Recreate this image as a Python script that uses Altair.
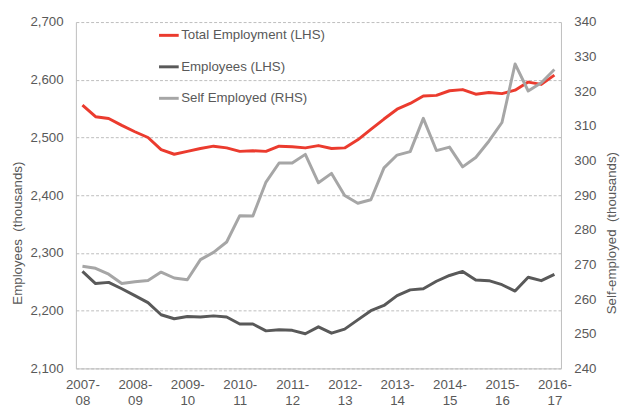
import altair as alt
import pandas as pd

year_labels = ["2007-08", "2008-09", "2009-10", "2010-11", "2011-12",
               "2012-13", "2013-14", "2014-15", "2015-16", "2016-17"]

series_names = ["Total Employment (LHS)", "Employees (LHS)", "Self Employed (RHS)"]
series_colors = ["#EB3B2E", "#595959", "#A6A6A6"]

total_employment = [2556, 2536, 2533, 2521, 2510, 2500, 2479, 2471, 2476, 2481,
                    2485, 2482, 2476, 2477, 2476, 2485, 2484, 2482, 2486, 2481,
                    2482, 2496, 2514, 2532, 2549, 2559, 2572, 2573, 2581, 2583,
                    2575, 2578, 2576, 2582, 2596, 2592, 2608]

employees = [2268, 2247, 2249, 2238, 2226, 2214, 2193, 2186, 2190, 2189,
             2191, 2189, 2177, 2177, 2165, 2167, 2166, 2160, 2172, 2161,
             2168, 2184, 2200, 2209, 2226, 2236, 2238, 2251, 2261, 2268,
             2253, 2252, 2245, 2234, 2258, 2252, 2263]

self_employed = [269.5, 268.9, 267.2, 264.5, 265.0, 265.4, 267.8, 266.1, 265.6, 271.4,
                 273.5, 276.5, 284.1, 284.0, 293.8, 299.3, 299.3, 301.8, 293.6, 296.3,
                 289.9, 287.7, 288.7, 297.9, 301.6, 302.6, 312.2, 302.9, 303.9, 298.2,
                 300.9, 305.6, 311.0, 327.9, 320.1, 322.5, 326.3]

left_ticks = [2100, 2200, 2300, 2400, 2500, 2600, 2700]
right_ticks = [240, 250, 260, 270, 280, 290, 300, 310, 320, 330, 340]

n = len(total_employment)
idx = list(range(n))

df_left = pd.DataFrame({
    "idx": idx + idx,
    "series": [series_names[0]] * n + [series_names[1]] * n,
    "value": total_employment + employees,
})
df_right = pd.DataFrame({
    "idx": idx,
    "series": [series_names[2]] * n,
    "value": self_employed,
})

label_arr = "[" + ",".join("['%s','%s']" % (y[:5], y[5:]) for y in year_labels) + "]"
label_expr = label_arr + "[round(datum.value/4)]"

line_col = "#BDBDBD"
line_w = 1

x_scale = alt.Scale(domain=[-0.5, n - 0.5], nice=False, zero=False)
color_scale = alt.Scale(domain=series_names, range=series_colors)

x_axis = alt.Axis(values=list(range(0, n, 4)), labelExpr=label_expr,
                  grid=False, ticks=False, domain=True, domainColor=line_col,
                  domainWidth=line_w, labelPadding=9, labelLineHeight=17,
                  labelOverlap=False, labelFlush=False)

legend = alt.Legend(
    title=None, orient="none", legendX=83, legendY=2, direction="vertical",
    symbolType="stroke", symbolSize=400, symbolStrokeWidth=3,
    labelFont="Liberation Sans", labelFontSize=13.5, labelColor="#595959",
    labelOffset=1, rowPadding=14, padding=0,
)

left = alt.Chart(df_left).mark_line(strokeWidth=3, strokeJoin="round").encode(
    x=alt.X("idx:Q", scale=x_scale, title=None, axis=x_axis),
    y=alt.Y("value:Q", scale=alt.Scale(domain=[2100, 2700], nice=False, zero=False),
            axis=alt.Axis(values=left_ticks, labelExpr="format(datum.value, ',')",
                          grid=True, gridColor=line_col, gridWidth=line_w,
                          gridDash=[3, 2], ticks=False, domain=True,
                          domainColor=line_col, domainWidth=line_w, labelPadding=13,
                          title="Employees\u00a0 (thousands)", titlePadding=5,
                          titleY=214, zindex=0)),
    color=alt.Color("series:N", scale=color_scale, legend=legend),
)

right = alt.Chart(df_right).mark_line(strokeWidth=3, strokeJoin="round").encode(
    x=alt.X("idx:Q", scale=x_scale, title=None, axis=x_axis),
    y=alt.Y("value:Q", scale=alt.Scale(domain=[240, 340], nice=False, zero=False),
            axis=alt.Axis(orient="right", values=right_ticks,
                          labelExpr="format(datum.value, 'd')",
                          grid=False, ticks=False, domain=True,
                          domainColor=line_col, domainWidth=line_w, labelPadding=13,
                          title="Self-employed\u00a0 (thousands)", titleAngle=270,
                          titleBaseline="top", titlePadding=9, titleY=214)),
    color=alt.Color("series:N", scale=color_scale, legend=legend),
)

chart = alt.layer(left, right).resolve_scale(y="independent").properties(
    width=493, height=352,
    autosize=alt.AutoSizeParams(type="none"),
    padding={"left": 69, "top": 11, "right": 60, "bottom": 40},
).configure_view(strokeWidth=0).configure_axis(
    labelFont="Liberation Sans", labelFontSize=13.5, labelColor="#595959",
    titleFont="Liberation Sans", titleFontSize=13.5, titleColor="#595959",
    titleFontWeight="normal",
)

chart.save("out.html", embed_options={"renderer": "svg", "actions": False})
